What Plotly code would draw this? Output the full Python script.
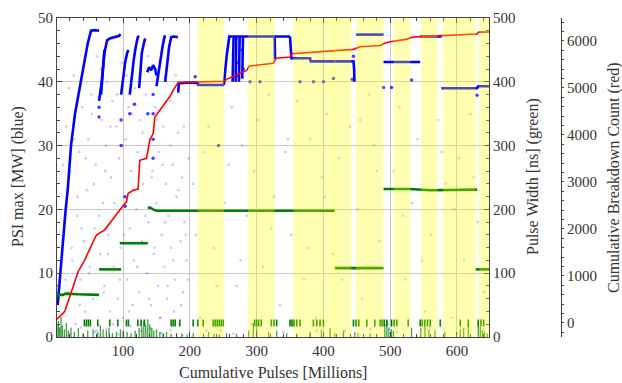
import plotly.graph_objects as go

# ---------------- data ----------------
# PSI max (blue) main trace segments, MW (None separates segments)
BLUE_X = [2, 6, 10, 14, 17, 22, 28, 33, 37, 42, 47, 52, 58, 64, None,
          64, 68, 72, 76, 80, 88, 94, 96, None,
          67, 69.5, 72, None,
          97, 100, 103, 106, 108, None,
          110, 113, 116, 119, 122, 124, None,
          124, 126, 128, 131, 133, None,
          136, 139, 142, 145, 148, 150, None,
          150, 153, 156, 159, 162, 164, None,
          163, 166, 169, 172, 175, 182, None,
          182.5, 183.5, 186, 200, 212, 213, 251, None,
          251, 255, 259, 300, 340, 350, None,
          264, 265.5, None, 268.5, 269.5, None, 273.5, 274.5, None, 278.5, 279.5, None,
          327, 327.5, None,
          350, 351.5, 352, 380, 381, 445, 446, 446.5, None,
          449, 490, None,
          490, 545, None,
          545, 577, None,
          577, 630, 632, 648]
BLUE_Y = [5, 10, 16, 20, 23, 30, 35, 38, 40, 43, 46, 48, 48.1, 48, None,
          37, 40, 44.5, 46.5, 46.8, 47, 47.2, 47.5, None,
          38, 42, 45, None,
          38, 40.5, 43, 44.5, 45, None,
          38, 41, 43.5, 45.5, 47, 47.2, None,
          39, 42, 44.5, 46, 46.8, None,
          41.5, 42.3, 41.8, 42.6, 42, 41, None,
          39.3, 41.5, 43.5, 45.5, 47.1, 47.1, None,
          40, 43, 45.5, 47, 47.1, 47, None,
          38.3, 39.8, 39.8, 39.9, 39.8, 39.5, 39.5, None,
          39.5, 44, 47.1, 47.1, 47.1, 47.1, None,
          40, 47, None, 40, 47, None, 40, 47, None, 40.5, 47, None,
          47, 43.5, None,
          47.1, 44, 43.7, 43.7, 43.2, 43.2, 42, 40, None,
          47.4, 47.4, None,
          43.1, 43.1, None,
          47.1, 47.1, None,
          39, 39, 39.3, 39.3]

# isolated stronger blue points (MW)
DOT_X = [64, 64, 97, 97, 110, 117, 145, 145, 145, 145, 137, 272, 272, 278, 280, 290,
         305, 365, 400, 415, 443, 243, 490, 502, 532, 630, 385, 445, 208, 103, 103]
DOT_Y = [36, 34.5, 34, 30, 35, 36.5, 38, 35, 31, 28, 35, 43, 41, 45, 42, 40,
         40, 40, 40, 40.5, 40.4, 30, 39.1, 39.1, 40.3, 37.9, 40, 44, 40.8, 22, 20.5]

# faint blue background points (MW)
BG_X = [8, 12, 15, 18, 21, 24, 26, 29, 31, 34, 36, 39, 41, 43, 46, 48, 50, 52, 55, 57,
        59, 61, 63, 66, 68, 70, 72, 74, 76, 78, 80, 82, 84, 86, 88, 90, 92, 94, 96, 98,
        100, 102, 104, 106, 108, 110, 112, 114, 116, 118, 120, 122, 124, 126, 128, 130,
        132, 134, 136, 138, 140, 142, 144, 146, 148, 150, 152, 154, 156, 158, 160, 162,
        164, 166, 168, 170, 172, 174, 176, 178, 180, 182, 184, 186, 188, 190, 192, 195, 198,
        5, 20, 37, 58, 75, 93, 111, 127, 141, 157, 171, 189,
        205, 215, 228, 236, 246, 258, 263, 270, 278, 285, 292, 301, 310, 318, 326, 335,
        343, 352, 360, 371, 380, 389, 398, 405, 414, 423, 432, 440, 451, 458, 468, 476,
        484, 496, 505, 514, 523, 533, 541, 552, 561, 572, 583, 592, 603, 611, 620, 631,
        640, 646,
        225, 265, 300, 340, 390, 430, 470, 510, 560, 600, 640,
        10, 14, 19, 23, 27, 32, 35, 38, 44, 49, 53, 56, 60, 64, 67, 71, 73, 77, 81, 85,
        87, 91, 95, 99, 101, 105, 109, 113, 117, 121, 125, 129, 133, 137, 139, 143, 147,
        151, 155, 159, 163, 167, 171, 175, 179, 183, 187, 191, 194, 197,
        209, 222, 240, 252, 276, 296, 322, 347, 376, 402, 428, 455, 480, 519, 548, 577,
        596, 625]
BG_Y = [3, 18, 33, 7, 26, 12, 41, 2, 19, 29, 9, 36, 15, 4, 23, 31, 11, 38, 6, 17,
        27, 44, 2, 13, 34, 21, 8, 30, 40, 16, 4, 25, 37, 11, 19, 33, 6, 28, 14, 43,
        3, 22, 31, 9, 36, 17, 26, 5, 12, 39, 20, 29, 7, 34, 15, 24,
        2, 38, 10, 18, 31, 5, 26, 13, 36, 21, 8, 29, 3, 16, 33, 11,
        24, 6, 19, 37, 14, 27, 4, 9, 22, 32, 2, 15, 25, 7, 18, 12, 28,
        1, 0.5, 1.5, 0.8, 1.2, 0.4, 1.7, 0.9, 1.3, 0.6, 1.1, 0.3,
        24, 3, 33, 14, 1, 27, 36, 8, 30, 19, 2, 34, 11, 38, 22, 5,
        29, 16, 37, 9, 31, 3, 25, 35, 13, 28, 1, 33, 20, 6, 38, 30,
        15, 2, 26, 36, 9, 21, 31, 4, 16, 34, 24, 3, 28, 12, 35, 18,
        7, 30,
        1, 0.5, 1.4, 0.7, 1, 0.4, 1.2, 0.8, 1.5, 0.6, 1.1,
        27, 9, 39, 14, 31, 22, 5, 17, 28, 10, 35, 24, 1, 19, 42, 7, 26, 13, 33, 2,
        21, 38, 9, 30, 16, 41, 4, 35, 23, 11, 2, 32, 19, 44, 6, 25, 14,
        34, 3, 27, 18, 8, 30, 12, 41, 23, 5, 33, 16, 9,
        16, 29, 8, 21, 12, 26, 17, 31, 14, 22, 9, 34, 26, 19, 12, 29,
        20, 25]

# Pulse width (green) segments, ns
GREEN_X = [1, 10, 14, 28, 32, 64, None,
           64, 97, None,
           95, 137, None,
           137, 140, 145, 150, 200, 300, 417, None,
           417, 490, None,
           490, 530, 560, 600, 630, None,
           628, 648]
GREEN_Y = [66, 66, 68, 68, 67, 66, None,
           106, 106, None,
           147, 147, None,
           202, 203, 200, 198, 198, 198, 198, None,
           108, 108, None,
           232, 232, 230, 231, 231, None,
           106, 106]

# short pulse-width marks near 22 ns
MARK_X = [42, 45, 48, 51, 62, 80, 92, 105, 108, 122, 127, 132, 172, 175, 178, 185, 205, 212,
          220, 235, 238, 241, 244, 247, 250, 297, 300, 303, 307, 322, 326, 330, 350, 353,
          356, 360, 365, 385, 390, 395, 400, 445, 449, 453, 465, 477, 485, 488, 491, 495,
          502, 506, 510, 527, 545, 548, 552, 556, 560, 575, 605, 617, 632, 636, 640]
MARK_Y = [22] * len(MARK_X)

# low pulse-width spikes (ns)
SPIKE_X = [1, 3, 5, 7, 9, 12, 15, 18, 22, 27, 33, 40, 47, 55, 62, 66, 70, 75, 79, 84, 90,
           96, 100, 106, 112, 118, 124, 128, 131, 134, 137, 140, 143, 146, 150, 155, 160,
           165, 172, 180, 188, 196, 205, 228, 236, 244, 255, 270, 288, 295, 300, 318, 330,
           345, 360, 380, 397, 410, 417, 430, 447, 452, 470, 492, 495, 498, 502, 505, 532,
           546, 552, 558, 567, 582, 605, 610, 617, 632, 635, 638, 641, 645]
SPIKE_H = [20, 25, 15, 30, 18, 12, 22, 10, 15, 8, 14, 6, 10, 12, 8, 18, 12, 10, 15, 6, 8,
           12, 10, 8, 6, 10, 14, 16, 25, 18, 28, 20, 15, 10, 12, 8, 6,
           8, 5, 6, 5, 4, 6, 8, 5, 4, 6, 5, 10, 22, 12, 8, 10,
           6, 5, 8, 12, 14, 6, 10, 8, 6, 5, 20, 25, 15, 12, 10, 14,
           15, 18, 12, 10, 8, 12, 14, 20, 25, 16, 10, 8, 6]

# cumulative breakdown count (red)
RED_X = [0, 12.5, 20, 32.5, 42.5, 52.5, 60, 72.5, 85, 95, 105, 107.5, 115, 122.5, 125, 135,
         140, 145, 147.5, 155, 162.5, 170, 175, 182.5, 215, 251, 255, 265, 285, 289, 325,
         329, 350, 352.5, 415, 445, 455, 485, 492.5, 500, 525, 532.5, 545, 630, 632.5, 648]
RED_Y = [68, 245, 557, 1086, 1344, 1629, 1873, 1982, 2226, 2402, 2579, 2755, 2823, 2850,
         3461, 3502, 3895, 4031, 4384, 4533, 4669, 4818, 4954, 5116, 5130, 5143, 5184, 5252,
         5374, 5469, 5524, 5632, 5659, 5727, 5795, 5822, 5876, 5903, 5958, 5985, 6040, 6080,
         6093, 6148, 6188, 6190]

# shaded (yellow) intervals, millions of pulses
SHADE_START = [212, 287, 355, 417, 449, 505, 546, 579, 633]
SHADE_END = [251, 327, 418.5, 442, 490, 530, 571, 628, 648]

X_TICKS = [100, 200, 300, 400, 500, 600]
Y_TICKS = [0, 10, 20, 30, 40, 50]
Y2_TICKS = [0, 100, 200, 300, 400, 500]
Y3_TICKS = [0, 1000, 2000, 3000, 4000, 5000, 6000]

# ---------------- figure ----------------
W, H = 622, 383
FONT = "Liberation Serif"
TXT = "#333333"
GREEN = "#008000"

spx, spy = [], []
for x, h in zip(SPIKE_X, SPIKE_H):
    spx += [x, x, None]
    spy += [0, h, None]

fig = go.Figure()
fig.add_trace(go.Scatter(x=BG_X, y=BG_Y, mode="markers", yaxis="y",
                         marker=dict(color="rgba(0,0,255,0.22)", size=2.6, symbol="circle"),
                         hoverinfo="skip", showlegend=False))
fig.add_trace(go.Scatter(x=DOT_X, y=DOT_Y, mode="markers", yaxis="y",
                         marker=dict(color="rgba(0,0,255,0.75)", size=3.5),
                         hoverinfo="skip", showlegend=False))
fig.add_trace(go.Scatter(x=BLUE_X, y=BLUE_Y, mode="lines", yaxis="y",
                         line=dict(color="#0000ff", width=2.6), connectgaps=False,
                         hoverinfo="skip", showlegend=False))
fig.add_trace(go.Scatter(x=spx, y=spy, mode="lines", yaxis="y2",
                         line=dict(color="rgba(0,128,0,0.75)", width=1.3),
                         hoverinfo="skip", showlegend=False))
fig.add_trace(go.Scatter(x=MARK_X, y=MARK_Y, mode="markers", yaxis="y2",
                         marker=dict(symbol="line-ns-open", size=5, color=GREEN,
                                     line=dict(width=1.6, color=GREEN)),
                         hoverinfo="skip", showlegend=False))
fig.add_trace(go.Scatter(x=GREEN_X, y=GREEN_Y, mode="lines", yaxis="y2",
                         line=dict(color=GREEN, width=2.6), connectgaps=False,
                         hoverinfo="skip", showlegend=False))
fig.add_trace(go.Scatter(x=RED_X, y=RED_Y, mode="lines", yaxis="y3",
                         line=dict(color="#ff0000", width=1.6),
                         hoverinfo="skip", showlegend=False))

for a, b in zip(SHADE_START, SHADE_END):
    fig.add_shape(type="rect", xref="x", yref="y domain", x0=a, x1=b, y0=0, y1=1,
                  fillcolor="rgba(255,255,0,0.30)", line=dict(width=0), layer="above")

XD = [57 / W, 489 / W]
YD = [(H - 337) / H, (H - 18) / H]
tickfont = dict(family=FONT, size=15, color=TXT)
axcol = "#444444"

fig.update_layout(
    width=W, height=H, margin=dict(l=0, r=0, t=0, b=0, pad=0, autoexpand=False),
    paper_bgcolor="white", plot_bgcolor="white", showlegend=False,
    font=dict(family=FONT, size=15, color=TXT),
    xaxis=dict(domain=XD, range=[1, 648], tickvals=X_TICKS, ticks="inside", ticklen=5,
               automargin=False,
               tickcolor=axcol, showline=True, linecolor=axcol, linewidth=1, mirror="ticks",
               showgrid=True, gridcolor="#c8c8c8", gridwidth=1, zeroline=False,
               tickfont=tickfont,
               minor=dict(dtick=20, tick0=0, ticks="inside", ticklen=3, tickcolor=axcol,
                          showgrid=False)),
    yaxis=dict(domain=YD, range=[0, 50], tickvals=Y_TICKS, ticks="inside", ticklen=5,
               automargin=False,
               tickcolor=axcol, showline=True, linecolor=axcol, linewidth=1,
               showgrid=True, gridcolor="#c8c8c8", gridwidth=1, zeroline=False,
               tickfont=tickfont,
               minor=dict(dtick=2, tick0=0, ticks="inside", ticklen=3, tickcolor=axcol,
                          showgrid=False)),
    yaxis2=dict(domain=YD, range=[0, 500], overlaying="y", side="right", anchor="x",
                automargin=False,
                tickvals=Y2_TICKS, ticks="inside", ticklen=5, tickcolor=axcol,
                showline=True, linecolor=axcol, linewidth=1, showgrid=False, zeroline=False,
                tickfont=tickfont,
                minor=dict(dtick=20, tick0=0, ticks="inside", ticklen=3, tickcolor=axcol)),
    yaxis3=dict(domain=YD, range=[-298, 6489], overlaying="y", side="right", anchor="free",
                automargin=False,
                position=561 / W, tickvals=Y3_TICKS, ticks="outside", ticklen=2,
                tickcolor=axcol, showline=True, linecolor=axcol, linewidth=1,
                showgrid=False, zeroline=False, tickfont=tickfont,
                minor=dict(dtick=200, tick0=0, ticks="outside", ticklen=2, tickcolor=axcol)),
)

ann_font = dict(family=FONT, size=16, color=TXT)
fig.add_annotation(text="Cumulative Pulses [Millions]", xref="paper", yref="paper",
                   x=273 / W, y=1 - 372 / H, xanchor="center", yanchor="middle",
                   showarrow=False, font=ann_font)
fig.add_annotation(text="PSI max [MW] (blue)", xref="paper", yref="paper",
                   x=18 / W, y=1 - 177 / H, xanchor="center", yanchor="middle",
                   textangle=-90, showarrow=False, font=ann_font)
fig.add_annotation(text="Pulse Width [ns] (green)", xref="paper", yref="paper",
                   x=533 / W, y=1 - 177 / H, xanchor="center", yanchor="middle",
                   textangle=-90, showarrow=False, font=ann_font)
fig.add_annotation(text="Cumulative Breakdown Count (red)", xref="paper", yref="paper",
                   x=614 / W, y=1 - 178 / H, xanchor="center", yanchor="middle",
                   textangle=-90, showarrow=False, font=ann_font)

fig.write_html("out.html", config={"displayModeBar": False},
               post_script="document.body.style.margin='0px';")
